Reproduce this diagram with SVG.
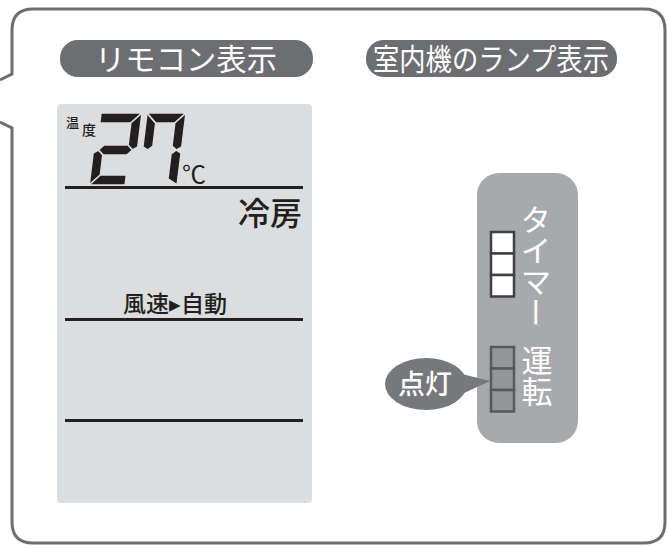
<svg xmlns="http://www.w3.org/2000/svg" width="667" height="546" viewBox="0 0 667 546">
<style>
.jp{font-family:"Noto Sans CJK JP","Noto Sans",sans-serif}
.pill{fill:#6d6e71}
.ptxt{fill:#fff;font-size:30px;text-anchor:middle}
.seg{fill:#231f20;stroke:#dcdddf;stroke-width:1.6;stroke-linejoin:miter}
.rule{fill:#231f20}
.lampW{fill:#fff;stroke:#414042;stroke-width:2.5}
.lampG{fill:#939598;stroke:#58595b;stroke-width:2.5}
.vt{fill:#fff;font-size:31px;writing-mode:vertical-rl}
.lt{fill:#231f20;font-weight:500}
</style>
<rect width="667" height="546" fill="#fff"/>
<g id="frame">
<path d="M0 80 L12 74 L12 30 Q12 9 33 9 L644 9 Q665 9 665 30 L665 522 Q665 543 644 543 L33 543 Q12 543 12 522 L12 128 L0 122" fill="none" stroke="#6d6e71" stroke-width="3"/>
</g>
<g id="pill-remote">
<rect class="pill" x="60" y="40" width="253" height="37" rx="18"/>
<text class="jp ptxt" x="186" y="70" textLength="182" lengthAdjust="spacingAndGlyphs">リモコン表示</text>
</g>
<g id="pill-indoor">
<rect class="pill" x="366" y="40" width="251" height="37" rx="18"/>
<text class="jp ptxt" x="491" y="70" textLength="236" lengthAdjust="spacingAndGlyphs">室内機のランプ表示</text>
</g>
<g id="lcd">
<rect x="57" y="104" width="255" height="399" rx="4" fill="#dcdddf"/>
<text class="jp lt" x="66" y="127" font-size="13">温</text>
<text class="jp lt" x="82" y="135" font-size="14">度</text>
<g transform="translate(98 113) skewX(-7)">
<polygon class="seg" points="3,0 44,0 34,10 3,10"/>
<polygon class="seg" points="44,0 44,34 39,37 34,33 34,10"/>
<polygon class="seg" points="5,37 10,32 34,32 39,37 34,42 10,42"/>
<polygon class="seg" points="0,40 5,37 10,42 10,62 0,72"/>
<polygon class="seg" points="0,72 10,62 36,62 36,72"/>
</g>
<g transform="translate(147 113) skewX(-7)">
<polygon class="seg" points="0,0 10,10 10,33 5,37 0,34"/>
<polygon class="seg" points="0,0 39,0 29,10 10,10"/>
<polygon class="seg" points="39,0 39,34 34,37 29,33 29,10"/>
<polygon class="seg" points="39,40 39,72 29,66 29,41 34,37"/>
</g>
<text class="jp" x="182" y="183" font-size="24" fill="#231f20">℃</text>
<rect class="rule" x="65" y="186" width="238" height="3"/>
<text class="jp lt" x="302" y="225" font-size="32" text-anchor="end">冷房</text>
<text class="jp lt" x="175" y="312" font-size="23" text-anchor="middle">風速▸自動</text>
<rect class="rule" x="65" y="318" width="238" height="3"/>
<rect class="rule" x="65" y="419" width="238" height="3"/>
</g>
<g id="indoor-panel">
<rect x="477" y="173" width="101" height="270" rx="22" fill="#a7a9ac"/>
<rect class="lampW" x="491" y="232" width="23" height="21.5"/>
<rect class="lampW" x="491" y="253.5" width="23" height="21.5"/>
<rect class="lampW" x="491" y="275" width="23" height="21.5"/>
<rect class="lampG" x="491" y="347" width="23" height="21.5"/>
<rect class="lampG" x="491" y="368.5" width="23" height="21.5"/>
<rect class="lampG" x="491" y="390" width="23" height="21.5"/>
<text class="jp vt" x="536" y="204">タイマー</text>
<text class="jp vt" x="537" y="345">運転</text>
</g>
<g id="connectors">
<polygon points="462,374 490,381 462,394" fill="#77787b"/>
</g>
<g id="callout">
<ellipse cx="426" cy="384" rx="41" ry="26" fill="#77787b"/>
<text class="jp" x="425" y="394" font-size="27" fill="#fff" font-weight="500" text-anchor="middle">点灯</text>
</g>
</svg>
